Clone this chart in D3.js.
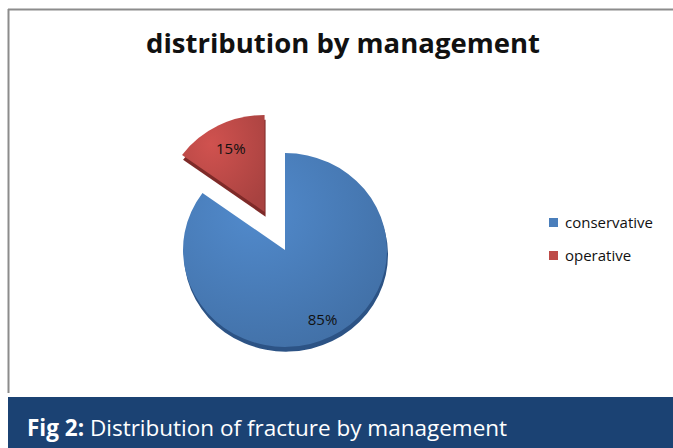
<!DOCTYPE html>
<html>
<head>
<meta charset="utf-8">
<script src="https://cdn.jsdelivr.net/npm/d3@7"></script>
<style>
  body { margin: 0; background: #fff; }
  svg { display: block; }
</style>
</head>
<body>
<div id="chart-area"></div>
<script>
// Data
var categories = ["conservative", "operative"];
var values = [85, 15];
var colors = ["#4a7ebb", "#be4b48"];
var darkColors = ["#2c5385", "#7e2a28"];
var explode = [0, 1];

var width = 673, height = 448;

var svg = d3.select("#chart-area")
    .append("svg")
    .attr("width", width)
    .attr("height", height);

var defs = svg.append("defs");
colors.forEach(function(c, i) {
    var grad = defs.append("radialGradient")
        .attr("id", "grad" + i)
        .attr("cx", "35%").attr("cy", "30%").attr("r", "80%");
    grad.append("stop").attr("offset", "0%").attr("stop-color", d3.color(c).brighter(0.25));
    grad.append("stop").attr("offset", "100%").attr("stop-color", d3.color(c).darker(0.35));
});

// Chart frame
svg.append("line")
    .attr("x1", 8).attr("y1", 9.5).attr("x2", width).attr("y2", 9.5)
    .attr("stroke", "#8c8c8c").attr("stroke-width", 2);
svg.append("line")
    .attr("x1", 8.5).attr("y1", 9).attr("x2", 8.5).attr("y2", 393)
    .attr("stroke", "#8c8c8c").attr("stroke-width", 2);

// Title
svg.append("text")
    .attr("x", 343)
    .attr("y", 53)
    .attr("text-anchor", "middle")
    .style("font-family", "'Open Sans', sans-serif")
    .style("font-weight", "bold")
    .style("font-size", "27.5px")
    .attr("fill", "#111")
    .text("distribution by management");

// Pie
var cx = 285, cy = 250, r = 102, ySquash = 0.95, depth = 5;
var labelRadius = [0.81, 0.73];

var pie = d3.pie().sort(null)(values);
var arc = d3.arc().innerRadius(0).outerRadius(r);

var pieG = svg.append("g")
    .attr("transform", "translate(" + cx + "," + cy + ") scale(1," + ySquash + ")");

function offset(d, i) {
    var mid = (d.startAngle + d.endAngle) / 2;
    var dist = explode[i] ? 45 : 0;
    return [Math.sin(mid) * dist, -Math.cos(mid) * dist];
}

// depth layer
pieG.selectAll(".depth")
    .data(pie)
    .enter().append("path")
    .attr("class", "depth")
    .attr("d", arc)
    .attr("fill", function(d, i) { return darkColors[i]; })
    .attr("transform", function(d, i) {
        var o = offset(d, i);
        return "translate(" + (o[0] + 1) + "," + (o[1] + depth) + ")";
    });

pieG.selectAll(".slice")
    .data(pie)
    .enter().append("path")
    .attr("class", "slice")
    .attr("d", arc)
    .attr("fill", function(d, i) { return "url(#grad" + i + ")"; })
    .attr("transform", function(d, i) {
        var o = offset(d, i);
        return "translate(" + o[0] + "," + o[1] + ")";
    });

// Labels
pieG.selectAll(".label")
    .data(pie)
    .enter().append("text")
    .attr("class", "label")
    .attr("transform", function(d, i) {
        var o = offset(d, i);
        var lr = r * labelRadius[i];
        var c = d3.arc().innerRadius(lr).outerRadius(lr).centroid(d);
        return "translate(" + (c[0] + o[0]) + "," + (c[1] + o[1]) + ") scale(1," + (1 / ySquash) + ")";
    })
    .attr("text-anchor", "middle")
    .attr("dy", "0.36em")
    .style("font-family", "'Open Sans', sans-serif")
    .style("font-size", "15px")
    .attr("fill", "#111")
    .text(function(d) { return d.data + "%"; });

// Legend
var legend = svg.append("g").attr("transform", "translate(549,218)");
var items = legend.selectAll(".item")
    .data(categories)
    .enter().append("g")
    .attr("transform", function(d, i) { return "translate(0," + (i * 33) + ")"; });
items.append("rect")
    .attr("width", 9).attr("height", 9)
    .attr("fill", function(d, i) { return colors[i]; });
items.append("text")
    .attr("x", 16).attr("y", 10)
    .style("font-family", "'Open Sans', sans-serif")
    .style("font-size", "15px")
    .attr("fill", "#111")
    .text(function(d) { return d; });

// Caption band
svg.append("rect")
    .attr("x", 8).attr("y", 397)
    .attr("width", width - 8).attr("height", height - 397)
    .attr("fill", "#1b4273");
var cap = svg.append("text")
    .attr("x", 27).attr("y", 436)
    .style("font-family", "'Open Sans', sans-serif")
    .style("font-size", "22.5px")
    .attr("fill", "#fff");
cap.append("tspan").style("font-weight", "bold").text("Fig 2:");
cap.append("tspan").text(" Distribution of fracture by management");
</script>
</body>
</html>
